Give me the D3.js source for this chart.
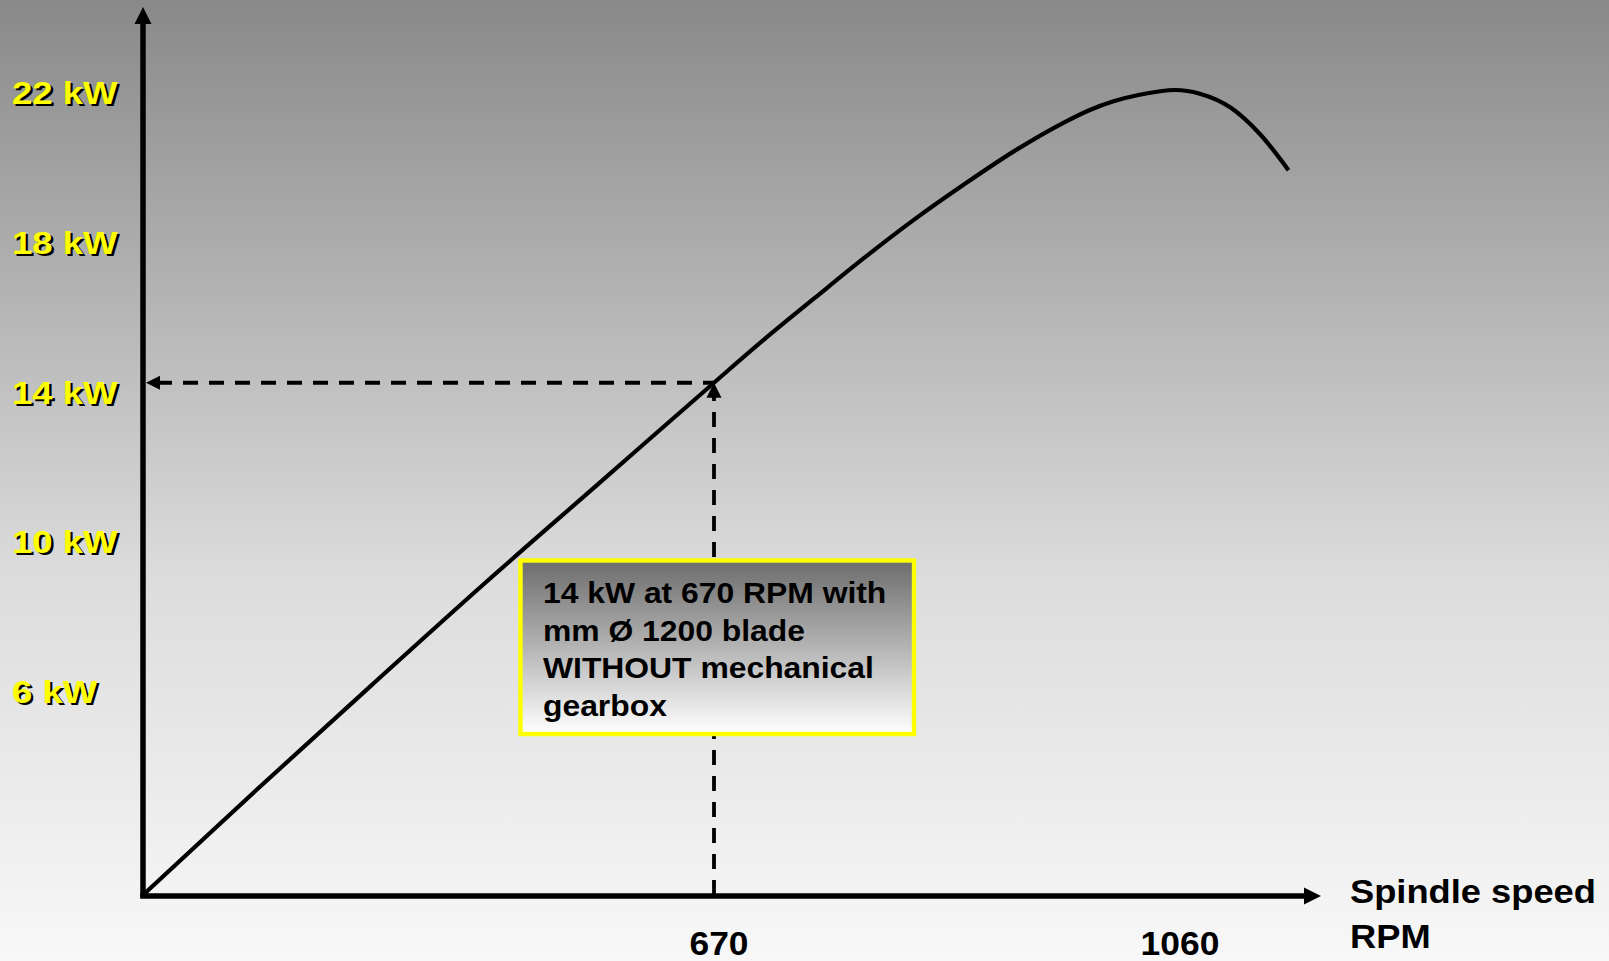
<!DOCTYPE html>
<html>
<head>
<meta charset="utf-8">
<script src="https://cdn.jsdelivr.net/npm/d3@7"></script>
<style>
  html, body { margin: 0; padding: 0; overflow: hidden; background: #fff; }
  svg { display: block; }
  text { font-family: "Liberation Sans", Arial, sans-serif; font-weight: bold; }
</style>
</head>
<body>
<svg id="chart" width="1609" height="961"></svg>
<script>
// ---- data ----
const rpmValues = [0, 134, 268, 401, 536, 670, 712, 755, 797, 839, 882, 924, 966, 987, 1008, 1030, 1060, 1081, 1107, 1132, 1156];
const kwValues  = [0, 2.89, 5.73, 8.52, 11.27, 14.0, 15.17, 16.31, 17.41, 18.45, 19.43, 20.33, 21.11, 21.44, 21.69, 21.87, 22.0, 21.90, 21.52, 20.79, 19.81];
const yTickValues = [22, 18, 14, 10, 6];
const yTickLabels = ["22 kW", "18 kW", "14 kW", "10 kW", "6 kW"];
const xTickValues = [670, 1060];
const xTickLabels = ["670", "1060"];
const markerRpm = 670;
const markerKw = 14;
const noteLines = ["14 kW at 670 RPM with", "mm \u00D8 1200 blade", "WITHOUT mechanical", "gearbox"];
const xAxisTitle = ["Spindle speed", "RPM"];

// ---- layout ----
const W = 1609, H = 961;
const svg = d3.select("#chart");
const defs = svg.append("defs");

const bg = defs.append("linearGradient").attr("id", "bg").attr("x1", 0).attr("y1", 0).attr("x2", 0).attr("y2", 1);
[[0, "#898989"], [0.6, "#dcdcdc"], [1, "#f8f8f8"]].forEach(s => bg.append("stop").attr("offset", s[0]).attr("stop-color", s[1]));
const bx = defs.append("linearGradient").attr("id", "boxg").attr("x1", 0).attr("y1", 0).attr("x2", 0).attr("y2", 1);
[[0, "#6c6c6c"], [0.5, "#b4b4b4"], [1, "#ffffff"]].forEach(s => bx.append("stop").attr("offset", s[0]).attr("stop-color", s[1]));

svg.append("rect").attr("width", W).attr("height", H).attr("fill", "url(#bg)");

// schematic (piecewise) speed axis and linear power axis
const x = d3.scaleLinear().domain([0, 670, 1060]).range([143, 714, 1175]);
const y = d3.scaleLinear().domain([0, 22]).range([895, 90]);
// the kW labels sit on their own, slightly wider spacing in the original slide
const yLabel = d3.scaleLinear().domain([6, 22]).range([703, 104]);

const x0 = x(0), y0 = y(0);
const axisTop = 7, axisRight = 1321, head = 17;

// dashed guide lines
const mx = x(markerRpm), my = y(markerKw);
svg.append("line").attr("x1", x0 + 14).attr("x2", mx).attr("y1", my).attr("y2", my)
  .attr("stroke", "#000").attr("stroke-width", 3.8).attr("stroke-dasharray", "15,11");
svg.append("path").attr("d", `M${x0 + 3},${my} L${x0 + 17},${my - 7} L${x0 + 17},${my + 7} Z`).attr("fill", "#000");
svg.append("line").attr("x1", mx).attr("x2", mx).attr("y1", y0).attr("y2", my + 14)
  .attr("stroke", "#000").attr("stroke-width", 3.8).attr("stroke-dasharray", "15,11");
svg.append("path").attr("d", `M${mx},${my} L${mx - 7.5},${my + 15} L${mx + 7.5},${my + 15} Z`).attr("fill", "#000");

// axes
svg.append("line").attr("x1", x0).attr("x2", x0).attr("y1", y0 + 2.75).attr("y2", axisTop + head - 1)
  .attr("stroke", "#000").attr("stroke-width", 5.5);
svg.append("path").attr("d", `M${x0},${axisTop} L${x0 - 8.5},${axisTop + head} L${x0 + 8.5},${axisTop + head} Z`).attr("fill", "#000");
svg.append("line").attr("x1", x0 - 2.75).attr("x2", axisRight - head + 1).attr("y1", y0 + 1).attr("y2", y0 + 1)
  .attr("stroke", "#000").attr("stroke-width", 5.5);
svg.append("path").attr("d", `M${axisRight},${y0 + 1} L${axisRight - head},${y0 + 1 - 8.5} L${axisRight - head},${y0 + 1 + 8.5} Z`).attr("fill", "#000");

// curve
const pts = rpmValues.map((r, i) => [r, kwValues[i]]);
svg.append("path").datum(pts)
  .attr("d", d3.line().x(d => x(d[0])).y(d => y(d[1])).curve(d3.curveMonotoneX))
  .attr("fill", "none").attr("stroke", "#000").attr("stroke-width", 4.2)
  .attr("stroke-linejoin", "round");

// y tick labels (yellow with shadow)
const yl = svg.append("g");
yTickValues.forEach((v, i) => {
  const g = yl.append("g").attr("transform", `translate(12, ${yLabel(v)}) scale(1.16,1)`);
  g.append("text").attr("x", 2).attr("y", 2).attr("font-size", 31.5).attr("fill", "#000").text(yTickLabels[i]);
  g.append("text").attr("x", 0).attr("y", 0).attr("font-size", 31.5).attr("fill", "#ffff00").text(yTickLabels[i]);
});

// x tick labels
xTickValues.forEach((v, i) => {
  svg.append("g").attr("transform", `translate(${x(v) + 5}, 955) scale(1.09,1)`)
    .append("text").attr("text-anchor", "middle").attr("font-size", 32.5).attr("fill", "#000").text(xTickLabels[i]);
});

// x axis title
xAxisTitle.forEach((t, i) => {
  svg.append("g").attr("transform", `translate(1350, ${903 + i * 45}) scale(1.1,1)`)
    .append("text").attr("font-size", 33).attr("fill", "#000").text(t);
});

// note box
const box = svg.append("g");
box.append("rect").attr("x", 520.5).attr("y", 560.5).attr("width", 393.5).attr("height", 173.5)
  .attr("fill", "url(#boxg)").attr("stroke", "#ffff00").attr("stroke-width", 4.4);
noteLines.forEach((t, i) => {
  box.append("g").attr("transform", `translate(543, ${603 + i * 37.7}) scale(1.08,1)`)
    .append("text").attr("font-size", 29.5).attr("fill", "#000").text(t);
});
</script>
</body>
</html>
